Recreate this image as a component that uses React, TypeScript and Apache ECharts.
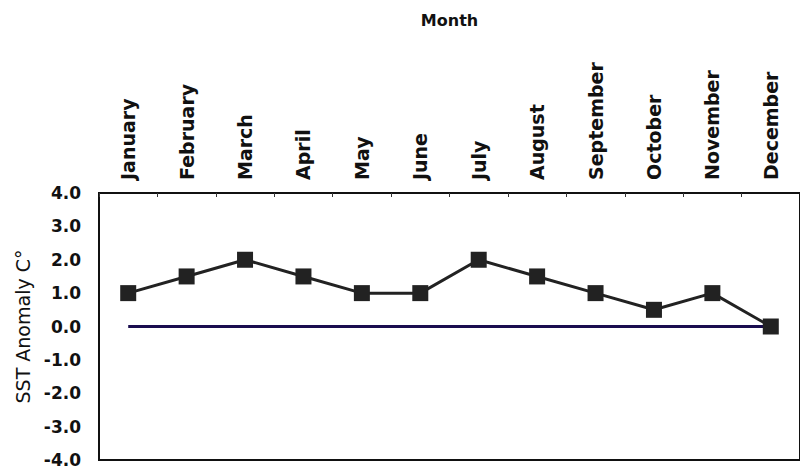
import React, { useEffect, useRef } from "react";
import * as echarts from "echarts";

const months = ["January", "February", "March", "April", "May", "June", "July", "August", "September", "October", "November", "December"];
const sstAnomaly = [1.0, 1.5, 2.0, 1.5, 1.0, 1.0, 2.0, 1.5, 1.0, 0.5, 1.0, 0.0];
const baseline = [0, 0, 0, 0, 0, 0, 0, 0, 0, 0, 0, 0];
const yMin = -4;
const yMax = 4;
const yStep = 1;

export default function App() {
  const ref = useRef<HTMLDivElement>(null);
  useEffect(() => {
    if (!ref.current) return;
    const chart = echarts.init(ref.current, null, { renderer: "svg" });
    const font = "'DejaVu Sans', 'Liberation Sans', sans-serif";
    chart.setOption({
      animation: false,
      backgroundColor: "#ffffff",
      grid: {
        left: 99,
        top: 193,
        width: 707,
        height: 267,
        show: true,
        borderColor: "#111",
        borderWidth: 2,
        backgroundColor: "transparent",
      },
      xAxis: {
        type: "category",
        position: "top",
        data: months,
        boundaryGap: true,
        name: "Month",
        nameLocation: "middle",
        nameGap: 165,
        nameTextStyle: { fontFamily: font, fontSize: 16, fontWeight: "bold", color: "#111" },
        axisLine: { show: true, onZero: false, lineStyle: { color: "#111", width: 2 } },
        axisTick: { show: true, inside: true, length: 4, lineStyle: { color: "#333" } },
        axisLabel: {
          rotate: -90,
          interval: 0,
          margin: 13,
          fontFamily: font,
          fontSize: 19,
          fontWeight: "bold",
          color: "#111",
        },
        splitLine: { show: false },
      },
      yAxis: {
        type: "value",
        min: yMin,
        max: yMax,
        interval: yStep,
        name: "SST Anomaly C°",
        nameLocation: "middle",
        nameGap: 66,
        nameTextStyle: { fontFamily: font, fontSize: 19, color: "#111" },
        axisLine: { show: true, lineStyle: { color: "#111", width: 2 } },
        axisTick: { show: false },
        axisLabel: {
          margin: 18,
          fontFamily: font,
          fontSize: 17,
          fontWeight: "bold",
          color: "#111",
          formatter: (v: number) => v.toFixed(1),
        },
        splitLine: { show: false },
      },
      series: [
        {
          type: "line",
          data: baseline,
          showSymbol: false,
          symbol: "none",
          lineStyle: { color: "#1a0d4f", width: 3 },
          z: 1,
        },
        {
          type: "line",
          data: sstAnomaly,
          symbol: "rect",
          symbolSize: 16,
          itemStyle: { color: "#222" },
          lineStyle: { color: "#222", width: 3 },
          z: 2,
        },
      ],
    });
    return () => chart.dispose();
  }, []);
  return <div ref={ref} style={{ position: "fixed", left: 0, top: 0, width: 800, height: 469 }} />;
}
